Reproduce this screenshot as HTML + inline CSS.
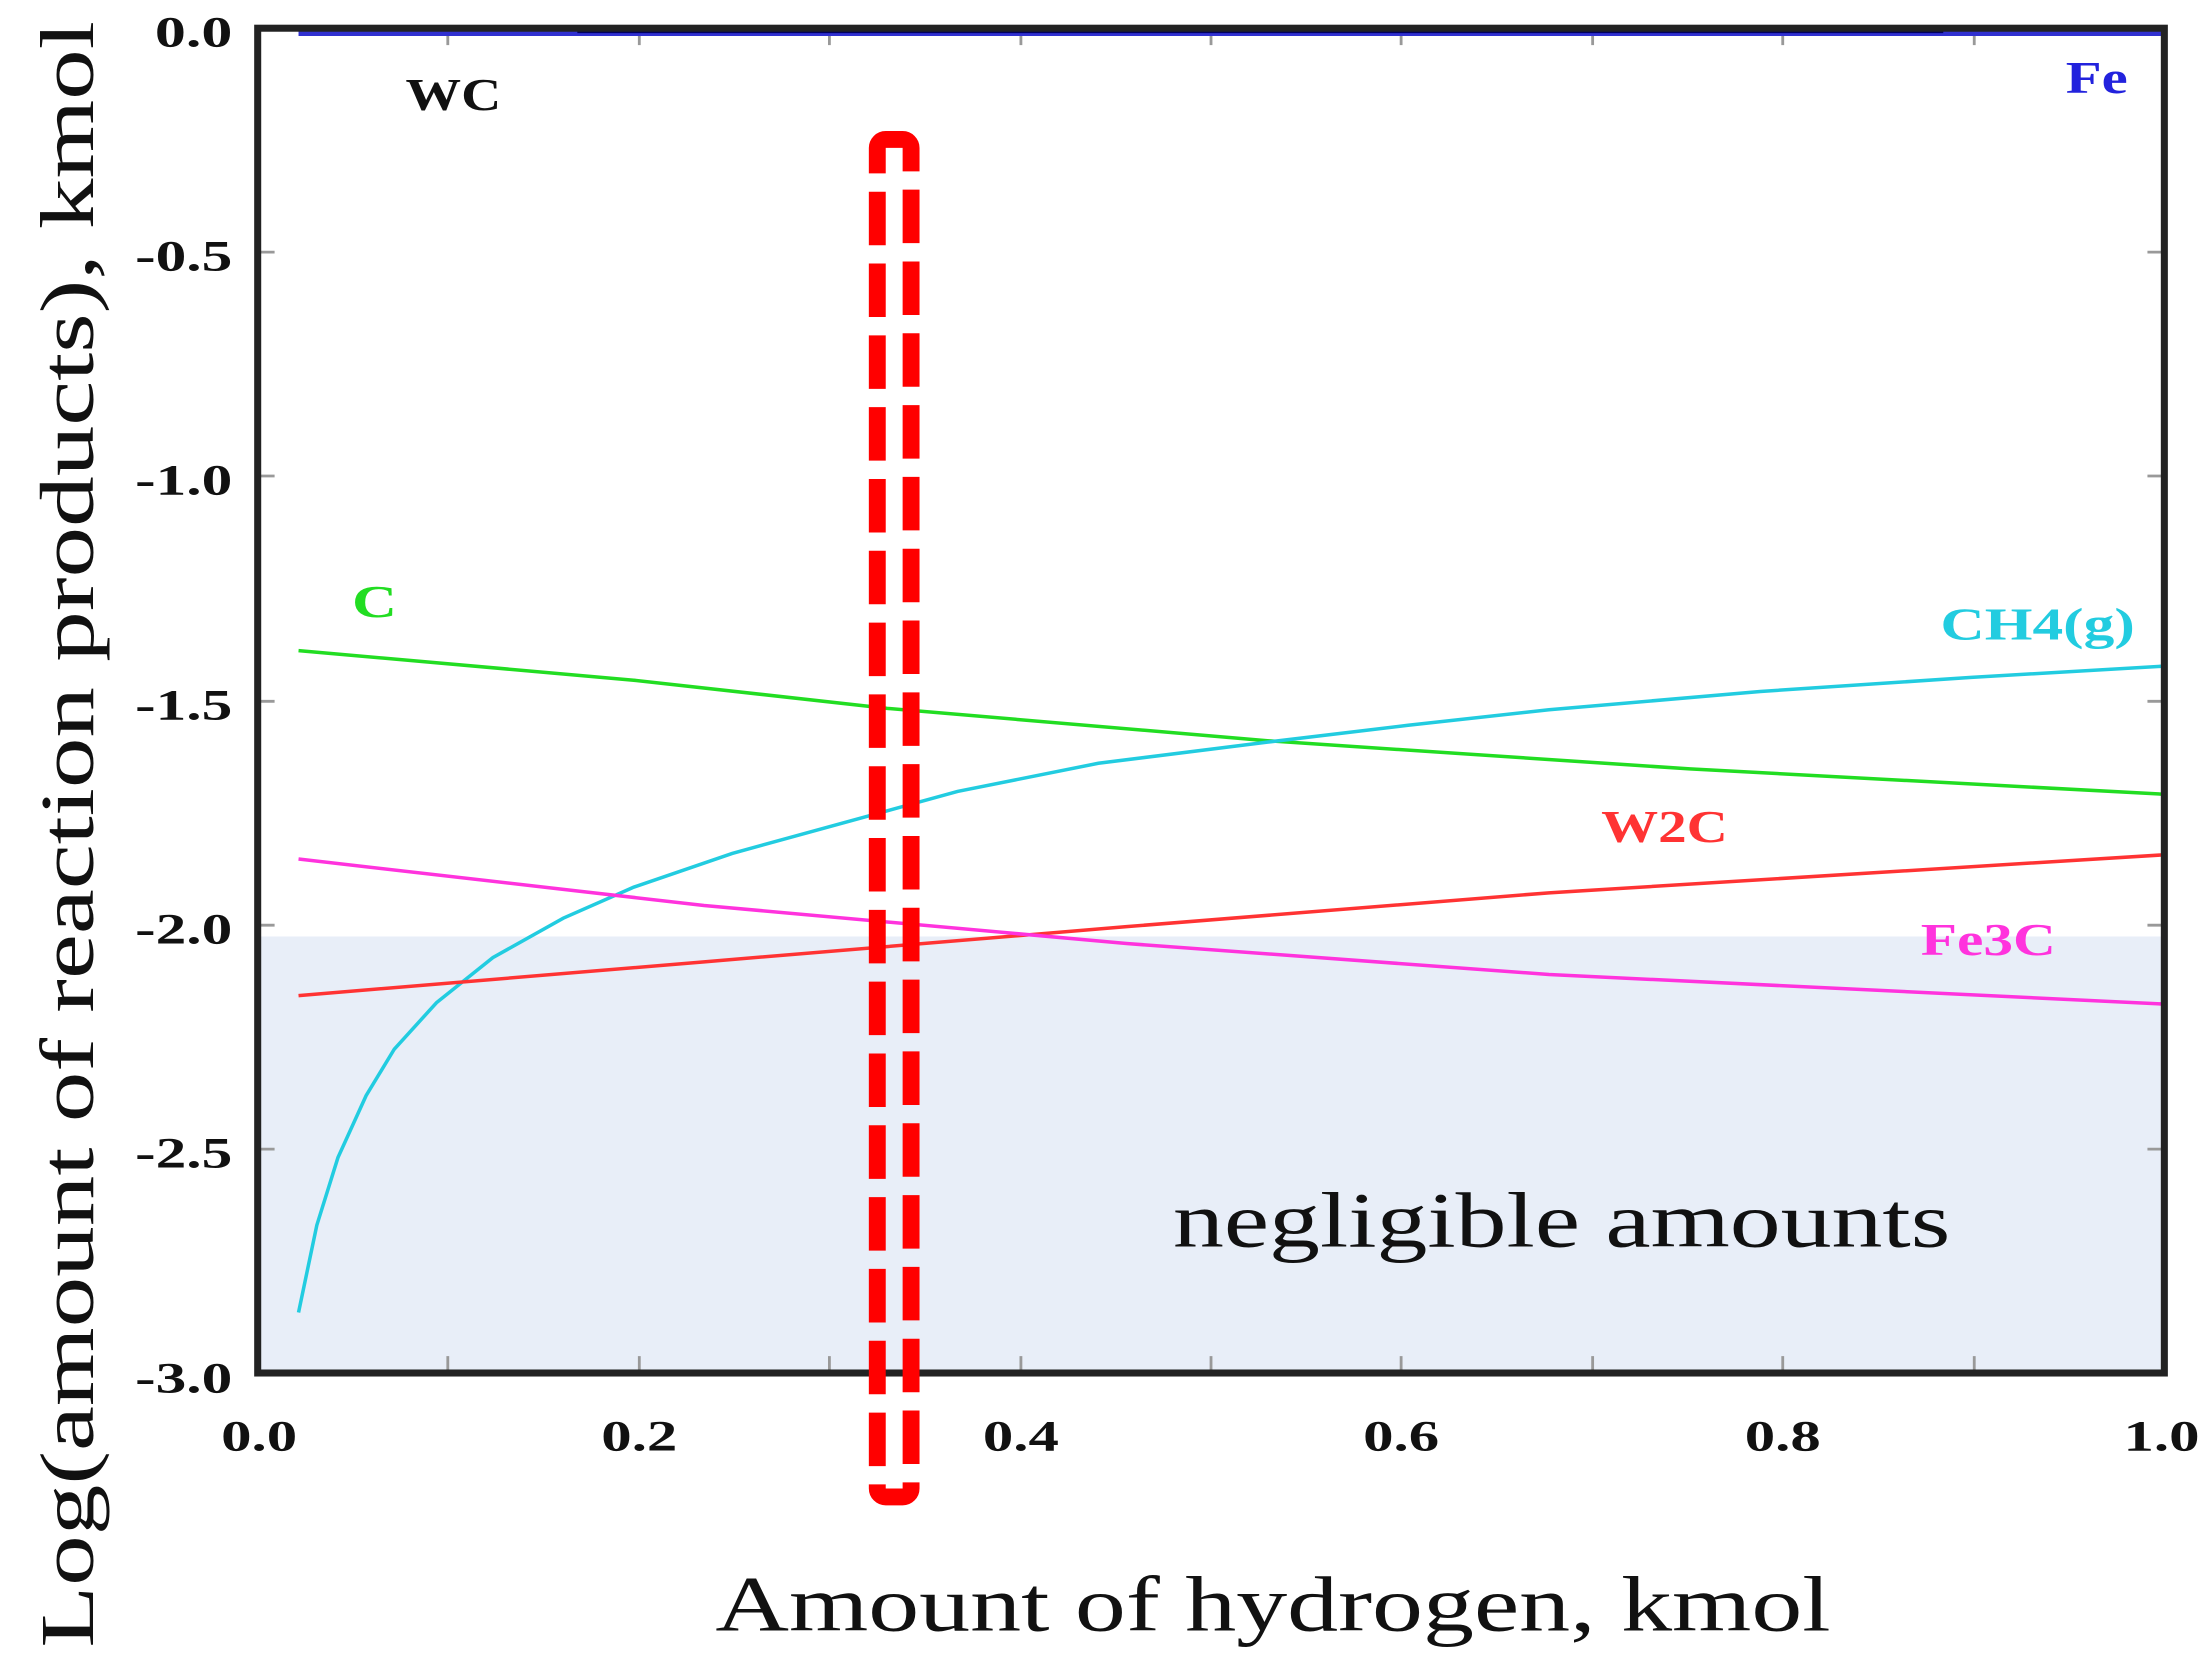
<!DOCTYPE html>
<html><head><meta charset="utf-8"><style>html,body{margin:0;padding:0;background:#fff}svg{display:block}</style></head>
<body>
<svg width="2208" height="1673" viewBox="0 0 1568 1188" xmlns="http://www.w3.org/2000/svg" font-family="Liberation Serif, serif">
<rect width="1568" height="1188" fill="#fff"/>
<rect x="183" y="665" width="1354" height="310" fill="#e8eef8"/>
<g stroke="#999" stroke-width="2">
<line x1="318" y1="975" x2="318" y2="963"/><line x1="454" y1="975" x2="454" y2="963"/><line x1="589" y1="975" x2="589" y2="963"/><line x1="725" y1="975" x2="725" y2="963"/><line x1="860" y1="975" x2="860" y2="963"/><line x1="995" y1="975" x2="995" y2="963"/><line x1="1131" y1="975" x2="1131" y2="963"/><line x1="1266" y1="975" x2="1266" y2="963"/><line x1="1402" y1="975" x2="1402" y2="963"/>
<line x1="318" y1="20" x2="318" y2="32"/><line x1="454" y1="20" x2="454" y2="32"/><line x1="589" y1="20" x2="589" y2="32"/><line x1="725" y1="20" x2="725" y2="32"/><line x1="860" y1="20" x2="860" y2="32"/><line x1="995" y1="20" x2="995" y2="32"/><line x1="1131" y1="20" x2="1131" y2="32"/><line x1="1266" y1="20" x2="1266" y2="32"/><line x1="1402" y1="20" x2="1402" y2="32"/>
<line x1="183" y1="179" x2="195" y2="179"/><line x1="183" y1="338" x2="195" y2="338"/><line x1="183" y1="498" x2="195" y2="498"/><line x1="183" y1="657" x2="195" y2="657"/><line x1="183" y1="816" x2="195" y2="816"/>
<line x1="1537" y1="179" x2="1525" y2="179"/><line x1="1537" y1="338" x2="1525" y2="338"/><line x1="1537" y1="498" x2="1525" y2="498"/><line x1="1537" y1="657" x2="1525" y2="657"/><line x1="1537" y1="816" x2="1525" y2="816"/>
</g>
<line x1="212" y1="23" x2="1537" y2="23" stroke="#3030d0" stroke-width="5"/>
<line x1="410" y1="22" x2="1380" y2="22" stroke="#000060" stroke-width="3"/>
<polyline fill="none" stroke="#22dd22" stroke-width="2.5" points="212,462 450,483 630,503 900,526 1200,546 1537,564"/>
<polyline fill="none" stroke="#22cce0" stroke-width="2.5" points="212,932 225,870 240,822 260,778 280,745 310,712 350,680 400,652 450,630 520,606 600,584 680,562 780,542 900,527 1000,515 1100,504 1250,491 1400,481 1537,473"/>
<polyline fill="none" stroke="#ff3333" stroke-width="2.5" points="212,707 500,683 800,658 1100,634 1537,607"/>
<polyline fill="none" stroke="#ff33dd" stroke-width="2.5" points="212,610 500,643 800,670 1100,692 1537,713"/>
<rect x="183" y="20" width="1354" height="955" fill="none" stroke="#222" stroke-width="5"/>
<rect x="623" y="99" width="24" height="964" rx="6" fill="none" stroke="#ff0000" stroke-width="12" stroke-dasharray="38 13"/>
<g font-weight="bold" font-size="32">
<text x="288" y="78" fill="#111" textLength="68" lengthAdjust="spacingAndGlyphs">WC</text>
<text x="1467" y="66" fill="#2222dd" textLength="44" lengthAdjust="spacingAndGlyphs">Fe</text>
<text x="250" y="438" fill="#22dd22" textLength="32" lengthAdjust="spacingAndGlyphs">C</text>
<text x="1378" y="454" fill="#22cce0" textLength="138" lengthAdjust="spacingAndGlyphs">CH4(g)</text>
<text x="1137" y="598" fill="#ff3333" textLength="90" lengthAdjust="spacingAndGlyphs">W2C</text>
<text x="1364" y="678" fill="#ff33dd" textLength="96" lengthAdjust="spacingAndGlyphs">Fe3C</text>
</g>
<g font-weight="bold" font-size="31" fill="#111">
<text x="110" y="33" textLength="55" lengthAdjust="spacingAndGlyphs">0.0</text>
<text x="96" y="192" textLength="69" lengthAdjust="spacingAndGlyphs">-0.5</text>
<text x="96" y="351" textLength="69" lengthAdjust="spacingAndGlyphs">-1.0</text>
<text x="96" y="511" textLength="69" lengthAdjust="spacingAndGlyphs">-1.5</text>
<text x="96" y="670" textLength="69" lengthAdjust="spacingAndGlyphs">-2.0</text>
<text x="96" y="829" textLength="69" lengthAdjust="spacingAndGlyphs">-2.5</text>
<text x="96" y="989" textLength="69" lengthAdjust="spacingAndGlyphs">-3.0</text>
</g>
<g font-weight="bold" font-size="31" fill="#111">
<text x="157" y="1030" textLength="54" lengthAdjust="spacingAndGlyphs">0.0</text>
<text x="427" y="1030" textLength="54" lengthAdjust="spacingAndGlyphs">0.2</text>
<text x="698" y="1030" textLength="54" lengthAdjust="spacingAndGlyphs">0.4</text>
<text x="968" y="1030" textLength="54" lengthAdjust="spacingAndGlyphs">0.6</text>
<text x="1239" y="1030" textLength="54" lengthAdjust="spacingAndGlyphs">0.8</text>
<text x="1508" y="1030" textLength="54" lengthAdjust="spacingAndGlyphs">1.0</text>
</g>
<text x="833" y="885" font-size="56" fill="#111" textLength="552" lengthAdjust="spacingAndGlyphs">negligible amounts</text>
<text x="508" y="1158" font-size="56" fill="#111" textLength="792" lengthAdjust="spacingAndGlyphs">Amount of hydrogen, kmol</text>
<text transform="translate(66,1170) rotate(-90)" font-size="54" fill="#111" textLength="1155" lengthAdjust="spacingAndGlyphs">Log(amount of reaction products), kmol</text>
</svg>
</body></html>
